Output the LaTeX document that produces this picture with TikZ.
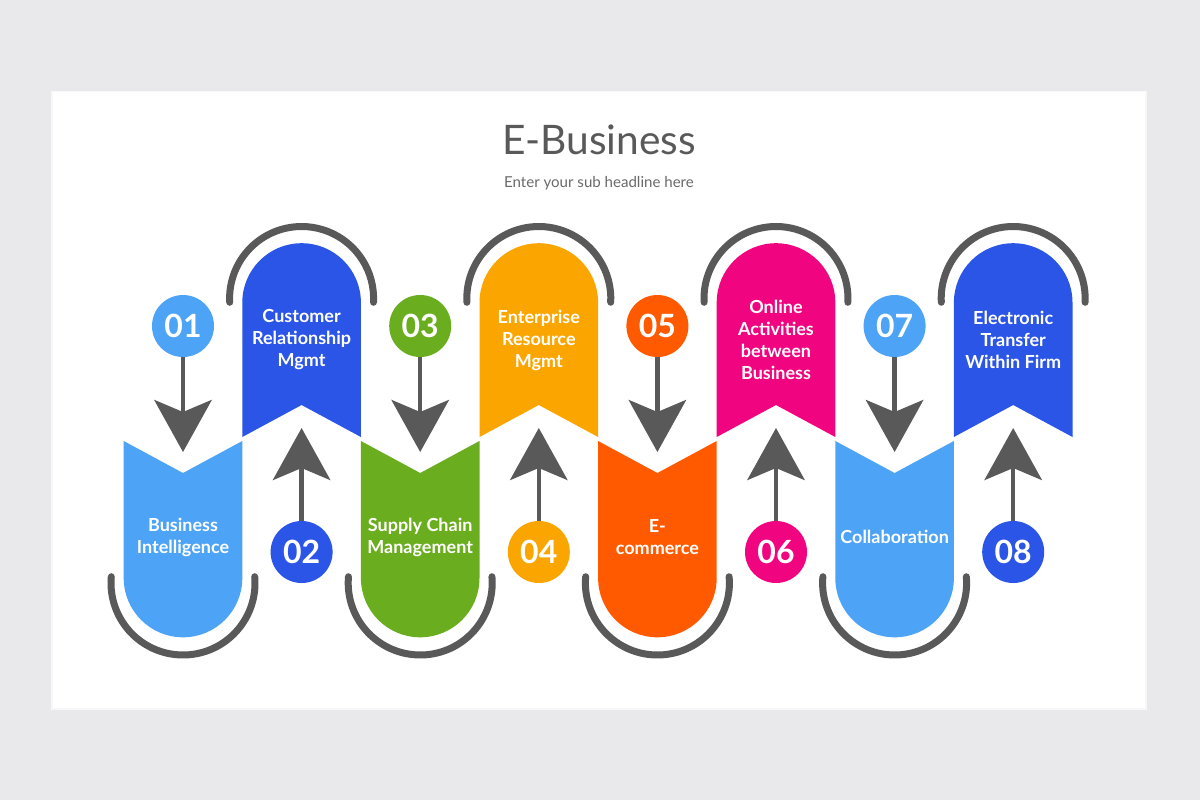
\documentclass[tikz,border=0pt]{standalone}
\usepackage{fontspec}
\setmainfont{Lato}
\usetikzlibrary{positioning}
\usetikzlibrary{arrows.meta}
\definecolor{skyblue}{HTML}{4DA3F5}
\definecolor{royal}{HTML}{2B55E6}
\definecolor{leaf}{HTML}{6AAD1E}
\definecolor{amber}{HTML}{FBA600}
\definecolor{flame}{HTML}{FF5A00}
\definecolor{rose}{HTML}{F0047F}
\definecolor{ink}{HTML}{595959}
\definecolor{slidebg}{HTML}{E9E8EA}
\tikzset{num/.style={circle,fill=#1,text=white,minimum size=46.5pt,inner sep=0pt,font=\bfseries\fontsize{24}{24}\selectfont}}
\tikzset{lbl/.style={text=white,align=center,font=\bfseries\fontsize{13.5}{16.5}\selectfont}}
\tikzset{rim/.style={draw=ink,line width=5.25pt,line cap=round}}
\tikzset{arr/.style={draw=ink,line width=3.4pt,-{Stealth[length=39pt,width=43pt,inset=9pt]}}}
% band hanging from a dome (x centre, colour)
\newcommand{\upband}[2]{\fill[#2] (#1-59.3,437) -- (#1-59.3,302.5) arc[start angle=180,end angle=360,radius=59.3] -- (#1+59.3,437) -- (#1,405) -- cycle;
  \draw[rim] (#1,298.5) ++(177:72) arc[start angle=177,end angle=363,radius=72];}
% band standing in a bowl (x centre, colour)
\newcommand{\downband}[2]{\fill[#2] (#1-59.3,441) -- (#1,473) -- (#1+59.3,441) -- (#1+59.3,578) arc[start angle=0,end angle=180,radius=59.3] -- cycle;
  \draw[rim] (#1,583) ++(-5:72) arc[start angle=-5,end angle=185,radius=72];}

\begin{document}
\begin{tikzpicture}[x=0.75pt,y=-0.75pt]
  \useasboundingbox (0,0) rectangle (1200,800);
  \fill[slidebg] (0,0) rectangle (1200,800);
  \fill[black!3] (51,91) rectangle (1147,710);
  \fill[white] (53,92) rectangle (1145,708);

  \node[text=ink,font=\fontsize{30.5}{30.5}\selectfont] (title) at (599,140) {E-Business};
  \node[text=ink!90,font=\fontsize{11.3}{12}\selectfont] (sub) at (599,183) {Enter your sub headline here};

  % bands
  \downband{183}{skyblue}
  \upband{301.6}{royal}
  \downband{420.2}{leaf}
  \upband{538.8}{amber}
  \downband{657.4}{flame}
  \upband{776}{rose}
  \downband{894.6}{skyblue}
  \upband{1013.2}{royal}

  % band texts
  \node[lbl] (b1) at (183,537) {Business\\Intelligence};
  \node[lbl] (b2) at (301.6,340) {Customer\\Relationship\\Mgmt};
  \node[lbl] (b3) at (420.2,537) {Supply Chain\\Management};
  \node[lbl] (b4) at (538.8,340) {Enterprise\\Resource\\Mgmt};
  \node[lbl] (b5) at (657.4,537) {E-\\commerce};
  \node[lbl] (b6) at (776,340) {Online\\Activities\\between\\Business};
  \node[lbl] (b7) at (894.6,537) {Collaboration};
  \node[lbl] (b8) at (1013.2,340) {Electronic\\Transfer\\Within Firm};

  % numbers
  \node[num=skyblue] (n1) at (183,326) {01};
  \node[num=royal] (n2) at (301.6,552) {02};
  \node[num=leaf] (n3) at (420.2,326) {03};
  \node[num=amber] (n4) at (538.8,552) {04};
  \node[num=flame] (n5) at (657.4,326) {05};
  \node[num=rose] (n6) at (776,552) {06};
  \node[num=skyblue] (n7) at (894.6,326) {07};
  \node[num=royal] (n8) at (1013.2,552) {08};

  % arrow tips
  \coordinate (t1) at (183,452);
  \coordinate (t2) at (301.6,428);
  \coordinate (t3) at (420.2,452);
  \coordinate (t4) at (538.8,428);
  \coordinate (t5) at (657.4,452);
  \coordinate (t6) at (776,428);
  \coordinate (t7) at (894.6,452);
  \coordinate (t8) at (1013.2,428);
  \draw[arr] (n1) -- (t1);
  \draw[arr] (n2) -- (t2);
  \draw[arr] (n3) -- (t3);
  \draw[arr] (n4) -- (t4);
  \draw[arr] (n5) -- (t5);
  \draw[arr] (n6) -- (t6);
  \draw[arr] (n7) -- (t7);
  \draw[arr] (n8) -- (t8);
\end{tikzpicture}
\end{document}
